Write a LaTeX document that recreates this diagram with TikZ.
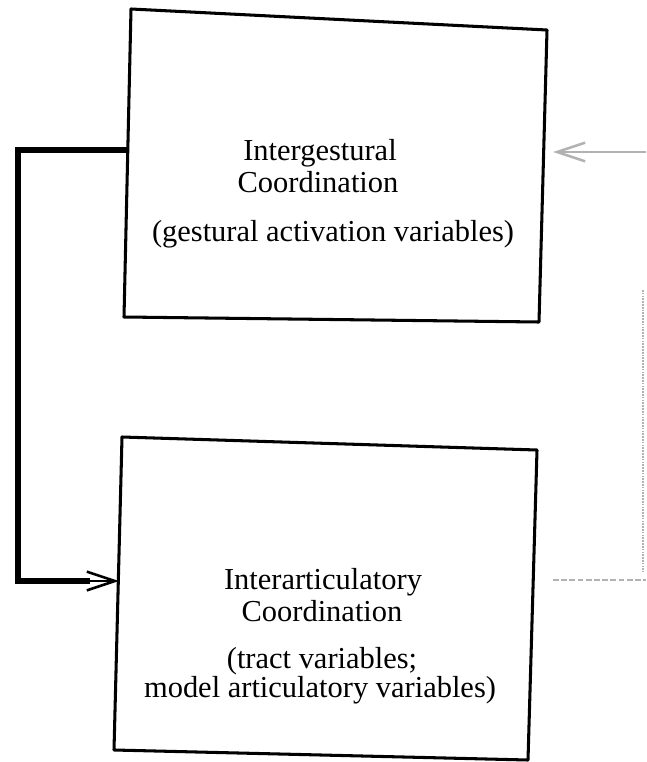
\documentclass[tikz,border=0pt]{standalone}
\usepackage{fontspec}
\setmainfont{Liberation Serif}
\usetikzlibrary{arrows.meta}
\begin{document}
\begin{tikzpicture}[x=0.03cm,y=-0.03cm,
  boxline/.style={line width=2.6pt,line join=round},
  lbl/.style={font=\fontsize{26}{30}\selectfont,inner sep=0pt,anchor=center},
  thickconn/.style={line width=4.5pt},
  faint/.style={gray!60,line width=1.4pt},
  openhead/.style={-{Straight Barb[length=24pt,width=16pt,line width=2.2pt]}}]
\useasboundingbox (0,0) rectangle (646,762);
% top box
\coordinate (t1) at (131,9);
\coordinate (t2) at (547,30);
\coordinate (t3) at (539,322);
\coordinate (t4) at (124,317);
\draw[boxline] (t1) -- (t2) -- (t3) -- (t4) -- cycle;
% bottom box
\coordinate (b1) at (122,437);
\coordinate (b2) at (537,450);
\coordinate (b3) at (528,760);
\coordinate (b4) at (114,750);
\draw[boxline] (b1) -- (b2) -- (b3) -- (b4) -- cycle;
% labels
\node[lbl] (ta) at (320,153) {Intergestural};
\node[lbl] (tb) at (318,182) {Coordination};
\node[lbl] (tc) at (333,234) {(gestural activation variables)};
\node[lbl] (ba) at (323,582) {Interarticulatory};
\node[lbl] (bb) at (322,611) {Coordination};
\node[lbl] (bc) at (322,661) {(tract variables;};
\node[lbl] (bd) at (320,690) {model articulatory variables)};
% left connector
\coordinate (lstart) at (128,150);
\coordinate (lc1) at (18,150);
\coordinate (lc2) at (18,581);
\coordinate (lend) at (119,581);
\draw[thickconn,line join=miter] (lstart) -- (lc1) -- (lc2) -- (90,581);
\draw[openhead,line width=2.2pt] (80,581) -- (lend);
% right faint connectors
\coordinate (rin) at (646,152);
\coordinate (rtip) at (553,152);
\draw[faint,openhead] (rin) -- (rtip);
\coordinate (v1) at (643,290);
\coordinate (v2) at (643,572);
\draw[faint,densely dotted,line width=1.6pt] (v1) -- (v2);
\coordinate (h1) at (553,580);
\coordinate (h2) at (646,580);
\draw[faint,dashed,dash pattern=on 5pt off 2pt] (h1) -- (h2);
\end{tikzpicture}
\end{document}
